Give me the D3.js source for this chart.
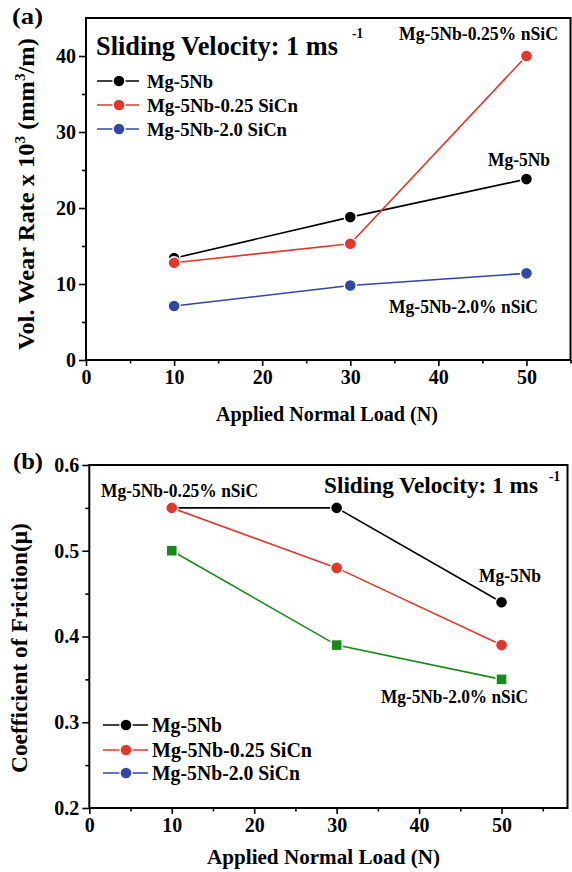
<!DOCTYPE html>
<html>
<head>
<meta charset="utf-8">
<script src="https://cdn.jsdelivr.net/npm/d3@7"></script>
<style>
  html, body { margin: 0; padding: 0; background: #fff; }
  svg { display: block; }
</style>
</head>
<body>
<svg id="chart" width="572" height="872"></svg>
<script>
// Applied loads (N)
const loads = [10, 30, 50];

// (a) volumetric wear rate x 10^3 (mm^3/m)
const wearMg5Nb = [13.4, 18.8, 23.8];
const wear025 = [12.8, 15.3, 40.0];
const wear20 = [7.1, 9.8, 11.4];

// (b) coefficient of friction
const cofMg5Nb = [0.55, 0.55, 0.44];
const cof025 = [0.55, 0.48, 0.39];
const cof20 = [0.50, 0.39, 0.35];

// tick values
const loadTicks = [0, 10, 20, 30, 40, 50];
const loadMinor = [5, 15, 25, 35, 45, 55];
const wearTicks = [0, 10, 20, 30, 40];
const wearMinor = [5, 15, 25, 35];
const cofTicks = [0.2, 0.3, 0.4, 0.5, 0.6];
const cofMinor = [0.25, 0.35, 0.45, 0.55];

// legend entries
const legendLabels = ["Mg-5Nb", "Mg-5Nb-0.25 SiCn", "Mg-5Nb-2.0 SiCn"];

const FONT = '"Liberation Serif", "Times New Roman", serif';
const BLACK = "#000000", RED = "#e3372c", BLUE = "#2f47a5", GREEN = "#178a17";
const svg = d3.select("#chart");

function styleText(sel, size) {
  return sel.style("font-family", FONT).style("font-weight", "bold")
    .style("font-size", size + "px").attr("fill", "#000");
}

// text helper: fixed width via textLength
function label(x, y, str, size, len) {
  const t = styleText(svg.append("text").attr("x", x).attr("y", y), size).text(str);
  if (len) t.attr("textLength", len).attr("lengthAdjust", "spacingAndGlyphs");
  return t;
}

function drawPanel(cfg) {
  const g = svg.append("g");
  const x = d3.scaleLinear().domain(cfg.xDomain).range([cfg.left, cfg.right]);
  const y = d3.scaleLinear().domain(cfg.yDomain).range([cfg.bottom, cfg.top]);

  // minor ticks
  g.append("g").attr("transform", `translate(0,${cfg.bottom})`)
    .call(d3.axisBottom(x).tickValues(loadMinor.filter(v => v <= cfg.xDomain[1])).tickSize(3.5).tickFormat("").tickSizeOuter(0))
    .call(a => a.select(".domain").remove())
    .call(a => a.selectAll("line").attr("stroke-width", 1.6));
  g.append("g").attr("transform", `translate(${cfg.left},0)`)
    .call(d3.axisLeft(y).tickValues(cfg.yMinor).tickSize(4).tickFormat("").tickSizeOuter(0))
    .call(a => a.select(".domain").remove())
    .call(a => a.selectAll("line").attr("stroke-width", 1.6));

  // major ticks + labels
  const xa = g.append("g").attr("transform", `translate(0,${cfg.bottom})`)
    .call(d3.axisBottom(x).tickValues(loadTicks).tickSize(6).tickPadding(4).tickSizeOuter(0));
  xa.select(".domain").remove();
  xa.selectAll("line").attr("stroke-width", 1.6);
  styleText(xa.selectAll("text"), 20);

  const ya = g.append("g").attr("transform", `translate(${cfg.left},0)`)
    .call(d3.axisLeft(y).tickValues(cfg.yTicks).tickSize(7).tickPadding(3).tickSizeOuter(0).tickFormat(cfg.yFormat));
  ya.select(".domain").remove();
  ya.selectAll("line").attr("stroke-width", 1.6);
  styleText(ya.selectAll("text"), 20);

  // frame
  g.append("rect").attr("x", cfg.left).attr("y", cfg.top)
    .attr("width", cfg.right - cfg.left).attr("height", cfg.bottom - cfg.top)
    .attr("fill", "none").attr("stroke", "#000").attr("stroke-width", 2);

  // series
  cfg.series.forEach(s => {
    const pts = loads.map((l, i) => [x(l), y(s.values[i])]);
    g.append("path").attr("d", d3.line()(pts)).attr("fill", "none")
      .attr("stroke", s.color).attr("stroke-width", 1.6);
    pts.forEach(p => {
      if (s.shape === "square") {
        g.append("rect").attr("x", p[0] - 5.5).attr("y", p[1] - 5.5)
          .attr("width", 11).attr("height", 11).attr("fill", s.color)
          .attr("stroke", "#fff").attr("stroke-width", 1.4);
      } else {
        g.append("circle").attr("cx", p[0]).attr("cy", p[1]).attr("r", 6)
          .attr("fill", s.color).attr("stroke", "#fff").attr("stroke-width", 1.4);
      }
    });
  });

  // legend
  const L = cfg.legend;
  legendLabels.forEach((name, i) => {
    const yy = L.rows[i];
    const c = [BLACK, RED, BLUE][i];
    g.append("line").attr("x1", L.x1).attr("x2", L.x2).attr("y1", yy).attr("y2", yy)
      .attr("stroke", c).attr("stroke-width", 1.6);
    g.append("circle").attr("cx", L.mx).attr("cy", yy).attr("r", 6)
      .attr("fill", c).attr("stroke", "#fff").attr("stroke-width", 1.4);
    label(L.tx, yy + 6.5, name, L.size, L.lens[i]);
  });
  return { x, y };
}

// (a) wear rate
drawPanel({
  left: 86, right: 570.5, top: 18, bottom: 360,
  xDomain: [0, 55], yDomain: [0, 45],
  yTicks: wearTicks, yMinor: wearMinor, yFormat: d3.format("d"),
  series: [
    { values: wearMg5Nb, color: BLACK, shape: "circle" },
    { values: wear025, color: RED, shape: "circle" },
    { values: wear20, color: BLUE, shape: "circle" }
  ],
  legend: { rows: [81, 105, 129], x1: 97, x2: 139, mx: 119, tx: 147, size: 19, lens: [66, 151, 140] }
});

// (b) coefficient of friction
drawPanel({
  left: 89.3, right: 567.5, top: 465, bottom: 808,
  xDomain: [0, 58], yDomain: [0.2, 0.6],
  yTicks: cofTicks, yMinor: cofMinor, yFormat: d3.format(".1f"),
  series: [
    { values: cofMg5Nb, color: BLACK, shape: "circle" },
    { values: cof025, color: RED, shape: "circle" },
    { values: cof20, color: GREEN, shape: "square" }
  ],
  legend: { rows: [725, 750, 773], x1: 103, x2: 148, mx: 126, tx: 152, size: 20, lens: [70, 160, 148] }
});

// panel tags
label(12, 24, "(a)", 24, 31);
label(13, 469, "(b)", 24, 30);

// velocity notes
label(96, 55, "Sliding Velocity: 1 ms", 28, 242);
label(352, 38, "-1", 15, 11);
label(324, 493, "Sliding Velocity: 1 ms", 24, 214);
label(549, 481, "-1", 15, 11);

// composition notes
label(399, 40, "Mg-5Nb-0.25% nSiC", 18, 159);
label(488, 166, "Mg-5Nb", 18, 62);
label(389, 313, "Mg-5Nb-2.0% nSiC", 18, 149);
label(101, 497, "Mg-5Nb-0.25% nSiC", 18, 157);
label(479, 582, "Mg-5Nb", 18, 62);
label(381, 703, "Mg-5Nb-2.0% nSiC", 18, 147);

// x axis titles
label(216, 421, "Applied Normal Load (N)", 22, 222);
label(207, 864, "Applied Normal Load (N)", 22, 233);

// y axis titles (rotated, scaled to a set length)
function yTitle(cx, cy, len, build) {
  const t = styleText(svg.append("text").attr("text-anchor", "start"), 24);
  build(t);
  const w = t.node().getComputedTextLength();
  const k = len / w;
  t.attr("transform", `translate(${cx},${cy}) rotate(-90) scale(${k},1) translate(${-w / 2},0)`);
}
yTitle(34, 194, 312, t => {
  t.append("tspan").text("Vol. Wear Rate x 10");
  t.append("tspan").attr("dy", -9).style("font-size", "15px").text("3");
  t.append("tspan").attr("dy", 9).text(" (mm");
  t.append("tspan").attr("dy", -9).style("font-size", "15px").text("3");
  t.append("tspan").attr("dy", 9).text("/m)");
});
yTitle(27, 648, 250, t => {
  t.append("tspan").text("Coefficient of Friction(\u03bc)");
});
</script>
</body>
</html>
